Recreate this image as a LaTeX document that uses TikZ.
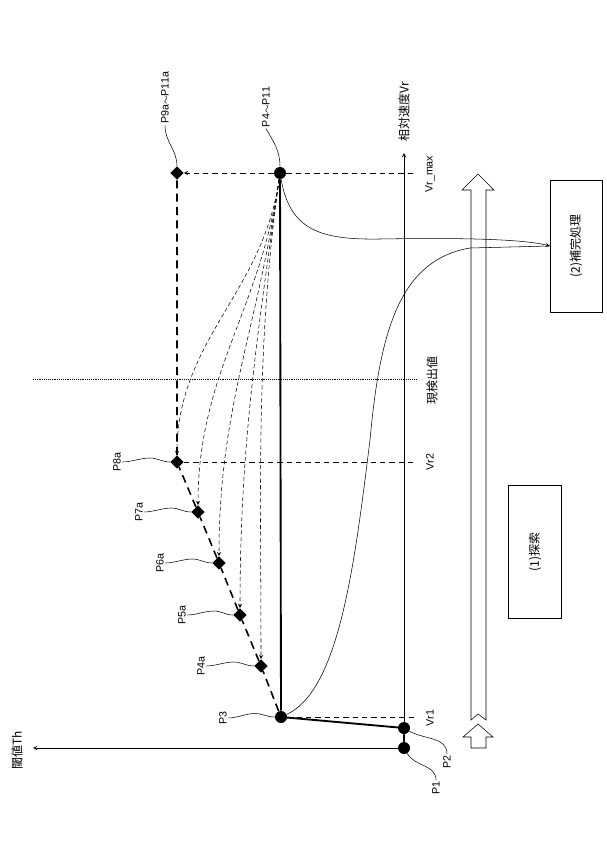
\documentclass[tikz,border=0pt]{standalone}
\usepackage{fontspec}
\setmainfont{Liberation Sans}
\newfontfamily\jpfont{Noto Sans CJK JP}
\usetikzlibrary{arrows,shapes.geometric,calc}
\tikzset{
  dot/.style={circle,fill=black,inner sep=0pt,minimum size=9pt},
  dia/.style={diamond,fill=black,inner sep=0pt,minimum size=10pt},
  lbl/.style={rotate=90,font=\footnotesize,inner sep=1pt},
  jlbl/.style={rotate=90,font=\jpfont\small,inner sep=1pt},
  leader/.style={thin},
  guide/.style={dash pattern=on 4pt off 3pt,thin},
  move/.style={->,>=stealth,densely dashed,thin}
}
\begin{document}
\begin{tikzpicture}[x=0.75pt,y=-0.75pt,>=stealth]
  \useasboundingbox (0,0) rectangle (606,866);
  % points
  \node [dot] (p1) at (404,748) {};
  \node [dot] (p2) at (404,728) {};
  \node [dot] (p3) at (281,717) {};
  \node [dot] (p4) at (280,173) {};
  \node [dia] (p4a) at (261,666) {};
  \node [dia] (p5a) at (240,615) {};
  \node [dia] (p6a) at (219,563) {};
  \node [dia] (p7a) at (198,512) {};
  \node [dia] (p8a) at (177,462) {};
  \node [dia] (p9a) at (177,173) {};
  % axes
  \coordinate (thend) at (33,748);
  \coordinate (vrend) at (404,153);
  \draw [->] (p1) -- (thend);
  \draw [->] (p1) -- (vrend);
  \node [jlbl] (th) at (17,750) {閾値Th};
  \node [jlbl] (vr) at (404,112) {相対速度Vr};
  % guide lines
  \coordinate (vr1end) at (416,717);
  \coordinate (vr2end) at (416,462);
  \coordinate (vmaxend) at (416,173);
  \coordinate (detA) at (33,379);
  \coordinate (detB) at (416,379);
  \draw [guide] (p3) -- (vr1end);
  \draw [guide] (p8a) -- (vr2end);
  \draw [guide] (p4) -- (vmaxend);
  \draw [->,guide] (p4) -- (p9a);
  \draw [densely dotted,thin] (detA) -- (detB);
  \node [lbl] (vr1) at (430,718) {Vr1};
  \node [lbl] (vr2) at (430,462) {Vr2};
  \node [lbl] (vmax) at (430,174) {Vr\_max};
  \node [jlbl] (det) at (432,380) {現検出値};
  % profiles
  \draw [line width=1.4pt] (p1) -- (p2) -- (p3) -- (p4);
  \draw [line width=1.2pt,dash pattern=on 6pt off 4pt] (p3) -- (p4a) -- (p5a) -- (p6a) -- (p7a) -- (p8a) -- (p9a);
  \foreach \t/\lp in {p4a/0.9,p5a/0.95,p6a/1.0,p7a/1.0,p8a/1.0}
    \draw [move] (p4) to[out=262,in=90,looseness=\lp] (\t);
  % boxes and block arrows
  \node [draw,thin,minimum width=39pt,minimum height=99pt] (hokan) at (576,246) {};
  \node [jlbl] at (hokan) {(2)補完処理};
  \node [draw,thin,minimum width=40pt,minimum height=100pt] (tansaku) at (535,552) {};
  \node [jlbl] at (tansaku) {(1)探索};
  \draw [thin] (471,720) -- (478,714) -- (486,720) -- (486,190) -- (494,190) -- (478,174) -- (462,190) -- (471,190) -- cycle;
  \draw [thin] (471,748) -- (471,737) -- (463,737) -- (478,724) -- (493,737) -- (486,737) -- (486,748) -- cycle;
  % transitions to box (2)
  \draw [->] (p4) .. controls (290,230) and (320,240) .. (380,239) .. controls (440,238) and (520,238) .. (hokan.west);
  \draw (p3) .. controls (340,690) and (355,560) .. (370,440) .. controls (380,330) and (400,260) .. (470,248) -- (hokan.west);
  % labels with leaders
  \node [lbl] (l9a) at (165,98) {P9a$\sim$P11a};
  \node [lbl] (l4) at (266,107) {P4$\sim$P11};
  \node [lbl] (l8a) at (117,462) {P8a};
  \node [lbl] (l7a) at (139,512) {P7a};
  \node [lbl] (l6a) at (160,563) {P6a};
  \node [lbl] (l5a) at (182,615) {P5a};
  \node [lbl] (l4a) at (201,666) {P4a};
  \node [lbl] (l3) at (223,718) {P3};
  \node [lbl] (l2) at (447,762) {P2};
  \node [lbl] (l1) at (436,788) {P1};
  \draw [leader] (l9a.west) to[out=-90,in=90] (p9a);
  \draw [leader] (l4.west) to[out=-60,in=90] (p4);
  \foreach \l/\p in {l8a/p8a,l7a/p7a,l6a/p6a,l5a/p5a,l4a/p4a,l3/p3}
    \draw [leader] (\l.south) to[out=0,in=180,looseness=0.8] ($(\l.south)!0.5!(\p)+(0,-4)$) to[out=0,in=180] (\p);
  \draw [leader] (p2) to[out=-30,in=90] (l2.east);
  \draw [leader] (p1) to[out=-60,in=90] (l1.east);
\end{tikzpicture}
\end{document}
